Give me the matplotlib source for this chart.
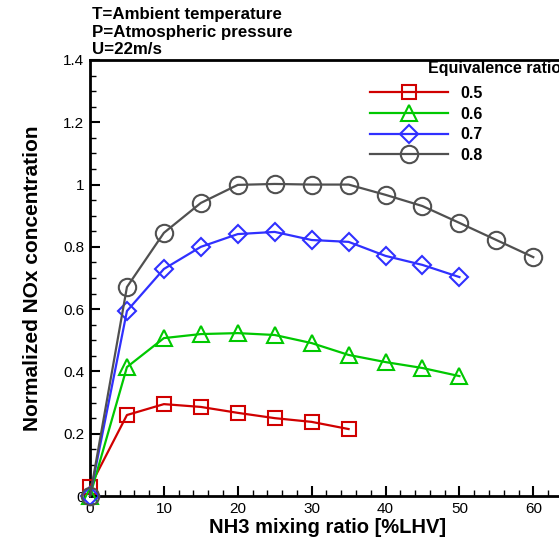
import numpy as np
import matplotlib.pyplot as plt
from matplotlib.ticker import MultipleLocator, FixedLocator

plt.rcParams['font.family'] = ['Liberation Sans', 'DejaVu Sans']

# NH3 mixing ratio [%LHV]
x_05 = [0, 5, 10, 15, 20, 25, 30, 35]
y_05 = [0.03, 0.26, 0.295, 0.286, 0.267, 0.25, 0.238, 0.215]

x_06 = [0, 5, 10, 15, 20, 25, 30, 35, 40, 45, 50]
y_06 = [0.0, 0.414, 0.507, 0.52, 0.523, 0.517, 0.491, 0.453, 0.43, 0.411, 0.385]

x_07 = [0, 5, 10, 15, 20, 25, 30, 35, 40, 45, 50]
y_07 = [0.0, 0.594, 0.729, 0.80, 0.841, 0.848, 0.822, 0.816, 0.771, 0.742, 0.703]

x_08 = [0, 5, 10, 15, 20, 25, 30, 35, 40, 45, 50, 55, 60]
y_08 = [0.0, 0.671, 0.845, 0.941, 0.999, 1.002, 1.0, 1.0, 0.967, 0.931, 0.877, 0.822, 0.767]

labels = ['0.5', '0.6', '0.7', '0.8']
couleurs = ['#d00000', '#00c800', '#3030ff', '#505050']
marqueurs = ['s', '^', 'D', 'o']
tailles = [10, 11, 9, 12.5]

yticks = [0, 0.2, 0.4, 0.6, 0.8, 1.0, 1.2, 1.4]
ytick_labels = ['0', '0.2', '0.4', '0.6', '0.8', '1', '1.2', '1.4']

W, H = 559, 539
fig = plt.figure(figsize=(W / 100, H / 100), dpi=100)
ax = fig.add_axes([90 / W, 43 / H, (W - 90) / W + 0.01, (496 - 60) / H])

series = [(x_05, y_05), (x_06, y_06), (x_07, y_07), (x_08, y_08)]
handles = []
for i, (xs, ys) in enumerate(series):
    h, = ax.plot(xs, ys, '-', color=couleurs[i], lw=1.6, marker=marqueurs[i],
                 ms=tailles[i], mfc='none', mec=couleurs[i], mew=1.5,
                 label=labels[i], clip_on=False, zorder=3)
    handles.append(h)

ax.set_xlim(0, (W - 90) / 7.37 + 0.6)
ax.set_ylim(0, 1.4)
ax.xaxis.set_major_locator(MultipleLocator(10))
ax.xaxis.set_minor_locator(MultipleLocator(2))
ax.yaxis.set_major_locator(FixedLocator(yticks))
ax.set_yticklabels(ytick_labels)
ax.yaxis.set_minor_locator(MultipleLocator(0.05))

for s in ['left', 'bottom', 'top']:
    ax.spines[s].set_linewidth(2)
ax.spines['right'].set_visible(False)
ax.tick_params(which='major', direction='in', length=7, width=1.5, labelsize=11, pad=4)
ax.tick_params(which='minor', direction='in', length=4, width=1)

ax.set_xlabel('NH3 mixing ratio [%LHV]', fontsize=14.5, fontweight='bold', labelpad=2)
ax.set_ylabel('Normalized NOx concentration', fontsize=15, fontweight='bold', labelpad=15)

leg = ax.legend(handles=handles, loc='upper left', bbox_to_anchor=(370 / W, 1 - 86 / H),
                bbox_transform=fig.transFigure, frameon=False,
                prop={'weight': 'bold', 'size': 11.5}, handlelength=4.9,
                handletextpad=0.75, labelspacing=0.35, borderpad=0, borderaxespad=0)

fig.text(428 / W, 1 - 68 / H, 'Equivalence ratio', fontsize=11.5, fontweight='bold',
         ha='left', va='center')

notes = ['T=Ambient temperature', 'P=Atmospheric pressure', 'U=22m/s']
for k, t in enumerate(notes):
    fig.text(92 / W, 1 - (15 + 17.5 * k) / H, t, fontsize=12.2, fontweight='bold',
             ha='left', va='center')

fig.savefig('out.png', dpi=100)
